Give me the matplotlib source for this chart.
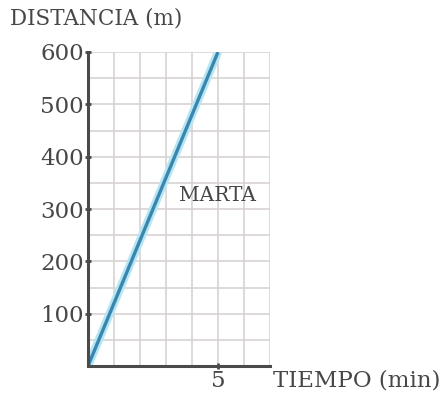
import matplotlib
matplotlib.use("Agg")
import matplotlib.pyplot as plt
import numpy as np

# Data
tiempo = [0, 5]          # min
distancia = [0, 600]     # m
y_ticks = [100, 200, 300, 400, 500, 600]
x_ticks = [5]
serie_label = "MARTA"

fig = plt.figure(figsize=(4.41, 4.00), dpi=100)
ax = fig.add_axes([88/441, 34/400, (270-88)/441, (366-52)/400])
ax.set_xlim(0, 7)
ax.set_ylim(0, 600)

# grid: every 1 min, every 50 m
for xv in np.arange(1, 8, 1):
    ax.axvline(xv, color='#d6d0d0', lw=1.1, zorder=1)
for yv in np.arange(50, 601, 50):
    ax.axhline(yv, color='#d6d0d0', lw=1.1, zorder=1)

# line with glow
ax.plot(tiempo, distancia, color='#b6e6f4', lw=6, solid_capstyle='butt', zorder=3)
ax.plot(tiempo, distancia, color='#3a86ae', lw=2.4, solid_capstyle='butt', zorder=4)

for s in ['top', 'right']:
    ax.spines[s].set_visible(False)
for s in ['left', 'bottom']:
    ax.spines[s].set_color('#4a4a4a')
    ax.spines[s].set_linewidth(2.2)
    ax.spines[s].set_zorder(5)

fam = ['DejaVu Serif']
tc = '#474747'
ax.set_yticks(y_ticks)
ax.set_yticklabels([str(v) for v in y_ticks], fontsize=16.5, color=tc, family=fam)
ax.set_xticks(x_ticks)
ax.set_xticklabels([str(v) for v in x_ticks], fontsize=16.5, color=tc, family=fam)
ax.tick_params(axis='both', length=4, width=2, color='#4a4a4a', direction='inout', pad=1)

fig.text(10/441, 1 - 18/400, "DISTANCIA (m)", fontsize=15.5, color=tc, family=fam,
         ha='left', va='center')
fig.text(440/441, 1 - 381/400, "TIEMPO (min)", fontsize=16.5, color=tc, family=fam,
         ha='right', va='center')
ax.text(5.0, 325, serie_label, fontsize=14.5, color=tc, family=fam, ha='center', va='center', zorder=6)

fig.savefig("out.png", dpi=100)
